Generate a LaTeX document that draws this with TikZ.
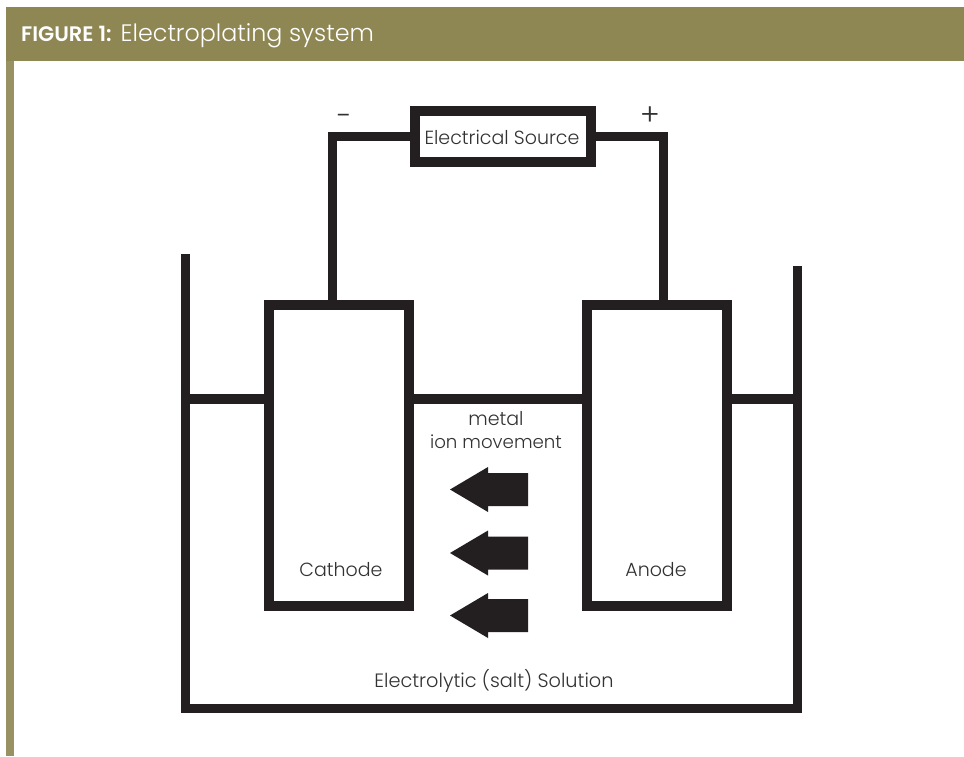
\documentclass[tikz,border=0pt]{standalone}
\usepackage{fontspec}
\setmainfont{Poppins}
\newfontfamily\lightfont{Poppins Light}
\newfontfamily\semifont{Poppins SemiBold}
\definecolor{olivehdr}{HTML}{8F8753}
\definecolor{inkdark}{HTML}{231F20}
\definecolor{labelgray}{HTML}{333132}
\usetikzlibrary{calc}
\tikzset{
  wire/.style={draw=inkdark,line width=9pt,line cap=butt,line join=miter},
  plate/.style={draw=inkdark,line width=10pt,fill=white,minimum width=140pt,minimum height=301pt,inner sep=0pt},
  sourcebox/.style={draw=inkdark,line width=10pt,fill=white,minimum width=176pt,minimum height=51pt,inner sep=0pt},
  lbl/.style={text=labelgray,font=\fontsize{19}{23.5}\selectfont\lightfont,inner sep=0pt,align=center},
  ionarrow/.style={fill=inkdark,draw=none}
}
\begin{document}
\begin{tikzpicture}[x=1pt,y=-1pt]
\useasboundingbox (0,0) rectangle (964,756);
\fill[white] (0,0) rectangle (964,756);
% header band and left rule
\fill[olivehdr] (6,7) rectangle (964,60.5);
\fill[olivehdr!92!white] (6,60.5) rectangle (13.5,756);
\node[anchor=base west,text=white,inner sep=0pt] (title) at (21,41)
  {\fontsize{21}{24}\selectfont\semifont FIGURE 1:};
\node[anchor=base west,text=white,inner sep=0pt] (subtitle) at (120.5,41)
  {\fontsize{23.8}{28}\selectfont\lightfont Electroplating system};
% electrodes and source
\node[plate] (cathode) at (339,455) {};
\node[plate] (anode) at (657,455) {};
\node[sourcebox] (source) at (503,136.5) {};
\node[lbl] (sourcelbl) at (502,137) {Electrical Source};
% named ends
\coordinate (cathodeTop) at (332,301);
\coordinate (anodeTop) at (663,301);
\coordinate (bathTL) at (185.5,254);
\coordinate (bathBL) at (185.5,708.5);
\coordinate (bathBR) at (797.5,708.5);
\coordinate (bathTR) at (797.5,266);
\coordinate (levelL) at (185.5,399);
\coordinate (levelR) at (797.5,399);
\coordinate (cathodeL) at (265,399);
\coordinate (cathodeR) at (413,399);
\coordinate (anodeL) at (584,399);
\coordinate (anodeR) at (731,399);
% wires
\draw[wire] (source.west) -| (cathodeTop);
\draw[wire] (source.east) -| (anodeTop);
% bath
\draw[wire] (bathTL) -- (bathBL) -- (bathBR) -- (bathTR);
% liquid level
\draw[wire,line width=9.5pt] (levelL) -- (cathodeL);
\draw[wire,line width=9.5pt] (cathodeR) -- (anodeL);
\draw[wire,line width=9.5pt] (anodeR) -- (levelR);
% ion arrows
\foreach \n/\yy in {one/489.5,two/553,three/615.5}{
  \fill[ionarrow] (450,\yy) -- (488,\yy-22.5) -- (488,\yy-16.5) -- (528,\yy-16.5)
     -- (528,\yy+16.5) -- (488,\yy+16.5) -- (488,\yy+22.5) -- cycle;
}
% labels
\node[lbl] (minus) at (344.5,120) {\fontsize{28}{28}\selectfont -};
\node[lbl] (plus) at (650,116) {\fontsize{30}{30}\selectfont +};
\node[lbl] (metal) at (496,430) {metal\\\fontsize{18.2}{23.5}\selectfont ion movement};
\node[lbl] (cathodelbl) at (341,570) {Cathode};
\node[lbl] (anodelbl) at (656,570) {Anode};
\node[lbl] (solution) at (494,681) {\fontsize{19.3}{23.5}\selectfont Electrolytic (salt) Solution};
\end{tikzpicture}
\end{document}
